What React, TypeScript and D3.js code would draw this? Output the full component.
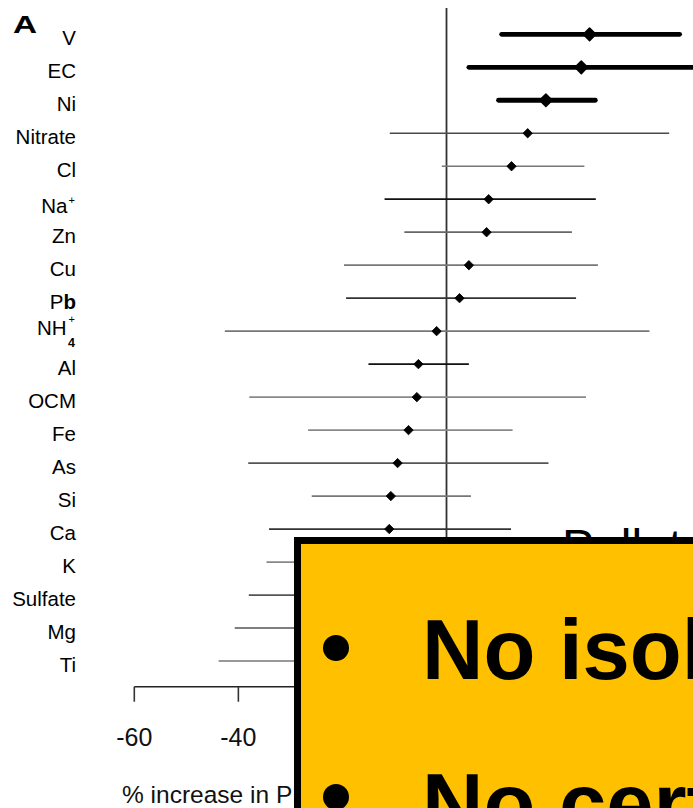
import React from 'react';
import * as d3 from 'd3';

// components ordered as in the panel (top -> bottom)
const components = ['V', 'EC', 'Ni', 'Nitrate', 'Cl', 'Na+', 'Zn', 'Cu', 'Pb', 'NH4+',
  'Al', 'OCM', 'Fe', 'As', 'Si', 'Ca', 'K', 'Sulfate', 'Mg', 'Ti'];
// % increase, point estimate and 95% interval
const estimates = [27.5, 25.9, 19.1, 15.6, 12.5, 8.1, 7.7, 4.3, 2.5, -1.9,
  -5.4, -5.7, -7.3, -9.4, -10.7, -11.0, -12.5, -14.0, -15.5, -17.0];
const lower = [10.6, 4.3, 10.0, -10.9, -0.9, -11.9, -8.1, -19.7, -19.3, -42.6,
  -15.0, -37.9, -26.6, -38.1, -25.9, -34.1, -34.6, -38.0, -40.7, -43.8];
const upper = [44.8, 52.0, 28.6, 42.8, 26.5, 28.7, 24.1, 29.1, 24.9, 39.0,
  4.3, 26.8, 12.7, 19.6, 4.7, 12.4, 9.0, 10.0, 10.5, 9.0];
const tickValues = [-60, -40, -20, 0, 20, 40];

const W = 693;
const H = 808;
const FONT = '"Liberation Sans", Arial, Helvetica, sans-serif';

// grey tone of the thin whiskers in the scan
const shade: Record<string, string> = {
  Nitrate: '#4a4a4a', Cl: '#777', 'Na+': '#111', Zn: '#666', Cu: '#777', Pb: '#333',
  'NH4+': '#777', Al: '#111', OCM: '#888', Fe: '#888', As: '#555', Si: '#777',
  Ca: '#333', K: '#888', Sulfate: '#555', Mg: '#555', Ti: '#777',
};

const Label = ({ name, yy }: { name: string; yy: number }) => {
  const common = { fontFamily: FONT, fill: '#000' };
  if (name === 'Na+') {
    return (
      <g {...common}>
        <text x={67.5} y={yy + 14} fontSize={20.5} textAnchor="end">Na</text>
        <text x={68.5} y={yy + 4.5} fontSize={11}>+</text>
      </g>
    );
  }
  if (name === 'NH4+') {
    return (
      <g {...common}>
        <text x={66.5} y={yy + 4} fontSize={20.5} textAnchor="end">NH</text>
        <text x={68} y={yy + 15.5} fontSize={12.5} fontWeight="bold">4</text>
        <text x={68.5} y={yy - 8} fontSize={11}>+</text>
      </g>
    );
  }
  if (name === 'Pb') {
    return (
      <text x={76} y={yy + 11} fontSize={20.5} textAnchor="end" {...common}>
        P<tspan fontWeight="bold">b</tspan>
      </text>
    );
  }
  return (
    <text x={76} y={yy + 11} fontSize={20.5} textAnchor="end" {...common}>{name}</text>
  );
};

export default function App() {
  const x = d3.scaleLinear().domain([-60, 0]).range([134.3, 446.5]);
  const y = d3.scalePoint<string>().domain(components).range([34.3, 661]);
  const axisY = 686.7;

  return (
    <svg width={W} height={H} style={{ position: 'absolute', left: 0, top: 0, background: '#fff' }}>
      {/* panel letter */}
      <text x={13} y={33.5} fontFamily={FONT} fontWeight="bold" fontSize={23.5}
        transform="translate(13,0) scale(1.42,1) translate(-13,0)">A</text>

      {/* reference line at 0 */}
      <line x1={x(0)} x2={x(0)} y1={8} y2={axisY} stroke="#333" strokeWidth={1.8} />

      {components.map((c, i) => {
        const yy = y(c) as number;
        const sig = lower[i] > 0;
        const sym = d3.symbol(d3.symbolSquare, sig ? 80 : 44)();
        return (
          <g key={c}>
            <Label name={c} yy={yy} />
            <line x1={x(lower[i])} x2={x(upper[i])} y1={yy} y2={yy}
              stroke={sig ? '#000' : shade[c]} strokeWidth={sig ? 4.8 : 1.7}
              strokeLinecap={sig ? 'round' : 'butt'} />
            <path d={sym as string} transform={`translate(${x(estimates[i])},${yy}) rotate(45)`}
              fill="#000" stroke="#000" strokeWidth={sig ? 1.5 : 0.8} strokeLinejoin="round" />
          </g>
        );
      })}

      {/* x axis */}
      <line x1={x(-60)} x2={x(40)} y1={axisY} y2={axisY} stroke="#222" strokeWidth={1.6} />
      {tickValues.map((t) => (
        <g key={t}>
          <line x1={x(t)} x2={x(t)} y1={axisY} y2={axisY + 15} stroke="#333" strokeWidth={1.6} />
          <text x={x(t)} y={746} textAnchor="middle" fontFamily={FONT} fontSize={25} fill="#111">
            {String(t)}
          </text>
        </g>
      ))}
      <text x={122} y={803} fontFamily={FONT} fontSize={24.5} fill="#111">
        % increase in PM2.5 mortality
      </text>

      {/* slide overlay */}
      <text x={562} y={563} fontFamily={FONT} fontSize={48} fill="#000">Pollutant</text>
      <rect x={297.5} y={540.5} width={460} height={340} fill="#FFC000" stroke="#000" strokeWidth={7} />
      <circle cx={336} cy={648} r={13} fill="#000" />
      <circle cx={336} cy={797} r={13} fill="#000" />
      <text x={422} y={679} fontFamily={FONT} fontWeight="bold" fontSize={85} fill="#000">No isolated</text>
      <text x={422} y={833} fontFamily={FONT} fontWeight="bold" fontSize={85} fill="#000">No certain</text>
    </svg>
  );
}
